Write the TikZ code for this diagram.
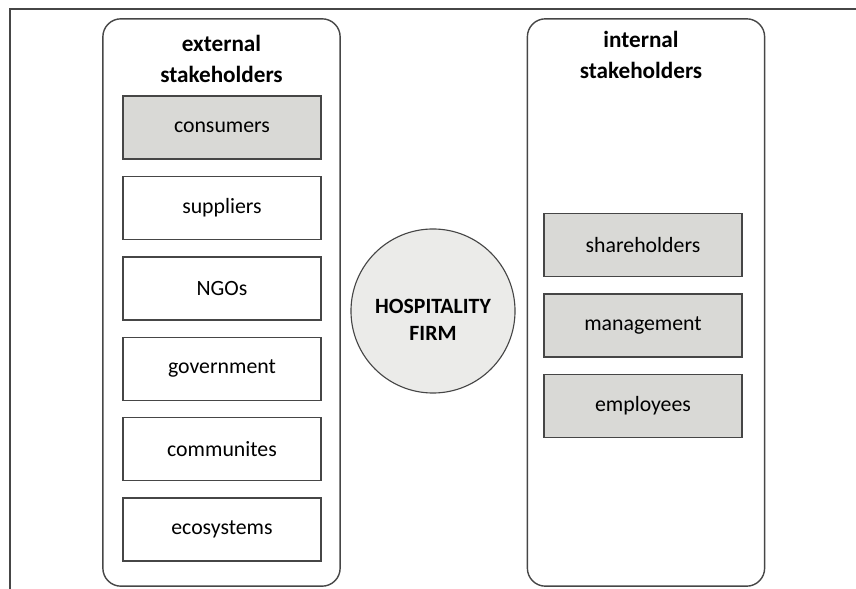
\documentclass[tikz,border=0pt]{standalone}
\usepackage{fontspec}
\setmainfont{Carlito}
\usetikzlibrary{positioning}
\definecolor{lineC}{RGB}{70,70,70}
\definecolor{shadeC}{RGB}{217,217,214}
\definecolor{firmC}{RGB}{235,235,233}
\tikzset{
	group/.style={draw=lineC, rounded corners=0.45cm, line width=1pt,
		minimum width=5.93cm, minimum height=14.18cm},
	grouptitle/.style={align=center, font=\fontsize{16.5}{22.5}\selectfont\bfseries},
	item/.style={draw=lineC, line width=1pt, fill=white,
		minimum width=4.95cm, minimum height=1.575cm,
		font=\fontsize{15.5}{18}\selectfont},
	shaded/.style={item, fill=shadeC},
	firm/.style={circle, draw=lineC, line width=0.8pt, fill=firmC,
		minimum size=4.1cm},
	firmtext/.style={align=center, font=\fontsize{15.5}{19.5}\selectfont\bfseries},
}

\begin{document}
\begin{tikzpicture}[x=0.025cm, y=-0.025cm]
	\useasboundingbox (0,0) rectangle (856,589);
	
	% ================= frame =================
	\draw[lineC, line width=1pt] (860,9) -- (10,9) -- (10,595);
	
	% ================= external stakeholders =================
	\node[group] (ext) at (221.5,302.5) {};
	\node[grouptitle] (extT) at (221.5,59) {external\\stakeholders};
	\node[shaded] (cons) at (222,127.5) {consumers};
	\node[item, below=0.4cm of cons] (supp) {suppliers};
	\node[item, below=0.4cm of supp] (ngo) {NGOs};
	\node[item, below=0.4cm of ngo] (gov) {government};
	\node[item, below=0.4cm of gov] (comm) {communites};
	\node[item, below=0.4cm of comm] (eco) {ecosystems};
	
	% ================= internal stakeholders =================
	\node[group] (int) at (646,302.5) {};
	\node[grouptitle] (intT) at (641,55) {internal\\stakeholders};
	\node[shaded] (share) at (643,245) {shareholders};
	\node[shaded, below=0.4cm of share] (man) {management};
	\node[shaded, below=0.4cm of man] (emp) {employees};
	
	% ================= the firm =================
	\node[firm] (hf) at (433,311) {};
	\node[firmtext] (hfT) at ([yshift=-0.22cm]hf.center) {HOSPITALITY\\FIRM};
	
\end{tikzpicture}
\end{document}
